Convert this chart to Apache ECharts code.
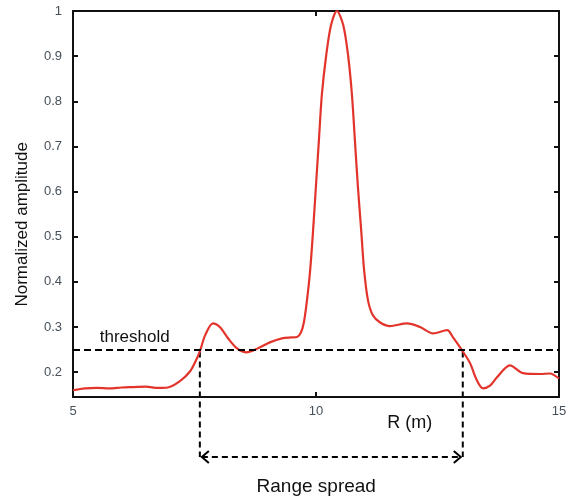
<!DOCTYPE html>
<html><head><meta charset="utf-8">
<script src="https://cdn.jsdelivr.net/npm/echarts@6/dist/echarts.min.js"></script>
<style>html,body{margin:0;background:#fff}#c{width:573px;height:497px}</style>
</head><body><div id="c"></div>
<script>
// ---- data ----
const rangeR = [5.00,5.25,5.50,5.75,6.00,6.25,6.50,6.75,6.95,7.20,7.41,7.53,7.61,7.72,7.88,8.02,8.19,8.37,8.56,8.81,9.05,9.30,9.50,9.61,9.69,9.75,9.81,9.88,9.94,10.00,10.06,10.12,10.21,10.31,10.43,10.56,10.66,10.74,10.80,10.86,10.93,10.99,11.07,11.17,11.32,11.52,11.87,12.14,12.41,12.70,12.82,13.02,13.17,13.31,13.44,13.58,13.72,13.99,14.26,14.61,14.81,15.00];
const amplitude = [0.160,0.164,0.165,0.164,0.166,0.167,0.168,0.165,0.166,0.180,0.202,0.226,0.246,0.282,0.308,0.300,0.275,0.253,0.244,0.253,0.266,0.275,0.277,0.278,0.288,0.310,0.355,0.426,0.514,0.614,0.714,0.814,0.902,0.969,1.000,0.969,0.902,0.814,0.714,0.614,0.514,0.426,0.359,0.326,0.310,0.302,0.308,0.300,0.286,0.293,0.277,0.246,0.220,0.182,0.164,0.170,0.188,0.215,0.198,0.196,0.197,0.186];
const yTickValues = [0.2,0.3,0.4,0.5,0.6,0.7,0.8,0.9,1];
const xTickValues = [5,10,15];
const threshold = 0.246;
const spreadStart = 7.61;
const spreadEnd = 13.02;
const yAxisMin = 0.145;
const yAxisMax = 1;
const xAxisMin = 5;
const xAxisMax = 15;
const xAxisTitle = 'R (m)';
const yAxisTitle = 'Normalized amplitude';
const thresholdLabel = 'threshold';
const spreadLabel = 'Range spread';

// ---- chart ----
const FONT = "'Liberation Sans', Arial, Helvetica, sans-serif";
const chart = echarts.init(document.getElementById('c'), null, {renderer:'canvas'});
const axisLineStyle = {show:true, lineStyle:{color:'#111', width:2}};
const tickLabel = {color:'#46505a', fontSize:13, fontFamily:FONT};
chart.setOption({
  animation:false,
  backgroundColor:'#ffffff',
  grid:{left:73, right:14, top:11, bottom:100, containLabel:false},
  xAxis:[
    {type:'value', min:xAxisMin, max:xAxisMax, interval:5, position:'bottom',
     axisLine:axisLineStyle, splitLine:{show:false},
     axisTick:{show:true, inside:true, length:5, lineStyle:{color:'#111', width:2}},
     axisLabel:Object.assign({margin:8, customValues:xTickValues, formatter:v=>String(v)}, tickLabel)},
    {type:'value', min:xAxisMin, max:xAxisMax, interval:5, position:'top',
     axisLine:axisLineStyle, splitLine:{show:false},
     axisTick:{show:true, inside:true, length:5, lineStyle:{color:'#111', width:2}},
     axisLabel:{show:false}}
  ],
  yAxis:[
    {type:'value', min:yAxisMin, max:yAxisMax, position:'left',
     axisLine:axisLineStyle, splitLine:{show:false},
     axisTick:{show:true, inside:true, length:5, customValues:yTickValues, lineStyle:{color:'#111', width:2}},
     axisLabel:Object.assign({margin:11, customValues:yTickValues, formatter:v=>String(+v.toFixed(2))}, tickLabel)},
    {type:'value', min:yAxisMin, max:yAxisMax, position:'right',
     axisLine:axisLineStyle, splitLine:{show:false},
     axisTick:{show:true, inside:true, length:5, customValues:yTickValues, lineStyle:{color:'#111', width:2}},
     axisLabel:{show:false}}
  ],
  series:[{
    type:'line', xAxisIndex:0, yAxisIndex:0,
    data: rangeR.map((r,i)=>[r, amplitude[i]]),
    smooth:0.3, showSymbol:false, clip:false,
    lineStyle:{color:'#e3342b', width:2.2},
    markLine:{silent:true, symbol:'none', animation:false,
      lineStyle:{color:'#000', width:2, type:[7,4]},
      label:{show:false},
      data:[{yAxis:threshold}]}
  }]
});

function px(r, v){ return chart.convertToPixel({xAxisIndex:0, yAxisIndex:0}, [r, v]); }
const pA = px(spreadStart, threshold);
const pB = px(spreadEnd, threshold);
const base = px(xAxisMin, yAxisMin);
const arrowY = base[1] + 60;
const dash = [6,4];
const ls = {stroke:'#000', lineWidth:2, lineDash:dash, fill:null};
const pT = px(5.55, threshold);
const pR = px(11.93, yAxisMin);
const pS = px((spreadStart+spreadEnd)/2 - 0.31, yAxisMin);
const pY = px(xAxisMin, (yAxisMin+yAxisMax)/2 - 0.045);
chart.setOption({
  graphic:[
    {type:'line', shape:{x1:pA[0], y1:pA[1], x2:pA[0], y2:arrowY}, style:ls, silent:true},
    {type:'line', shape:{x1:pB[0], y1:pB[1], x2:pB[0], y2:arrowY}, style:ls, silent:true},
    {type:'line', shape:{x1:pA[0]+2, y1:arrowY, x2:pB[0]-2, y2:arrowY}, style:ls, silent:true},
    {type:'polyline', shape:{points:[[pA[0]+9,arrowY-6],[pA[0]+2,arrowY],[pA[0]+9,arrowY+6]]}, style:{stroke:'#000', lineWidth:2, fill:null}, silent:true},
    {type:'polyline', shape:{points:[[pB[0]-9,arrowY-6],[pB[0]-2,arrowY],[pB[0]-9,arrowY+6]]}, style:{stroke:'#000', lineWidth:2, fill:null}, silent:true},
    {type:'text', x:pT[0], y:pT[1]-14, style:{text:thresholdLabel, font:'17px '+FONT, fill:'#111', align:'left', verticalAlign:'middle'}, silent:true},
    {type:'text', x:pR[0], y:pR[1]+26, style:{text:xAxisTitle, font:'18px '+FONT, fill:'#111', align:'center', verticalAlign:'middle'}, silent:true},
    {type:'text', x:pS[0], y:pS[1]+90, style:{text:spreadLabel, font:'19px '+FONT, fill:'#111', align:'center', verticalAlign:'middle'}, silent:true},
    {type:'text', x:22, y:pY[1], rotation:Math.PI/2, style:{text:yAxisTitle, font:'17px '+FONT, fill:'#111', align:'center', verticalAlign:'middle'}, silent:true}
  ]
});
</script></body></html>
